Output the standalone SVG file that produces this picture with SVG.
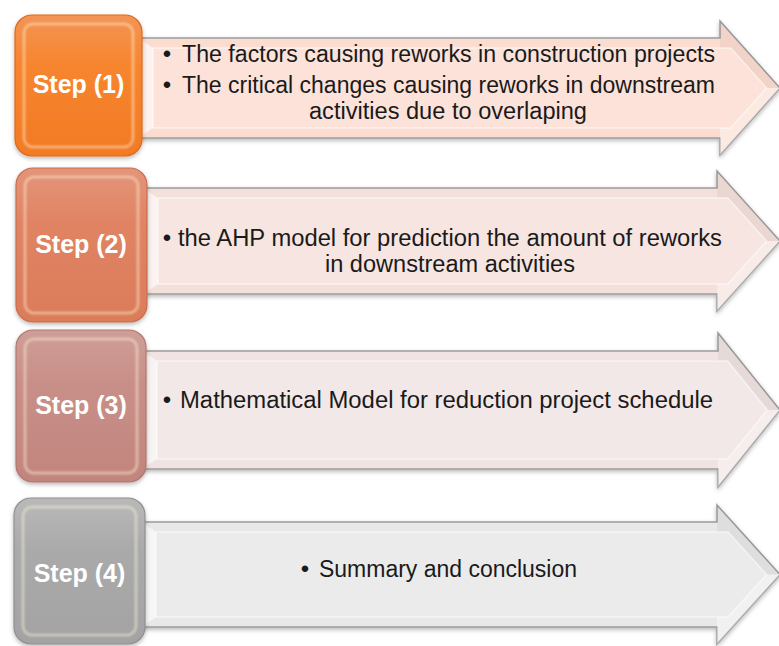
<svg xmlns="http://www.w3.org/2000/svg" width="779" height="646" viewBox="0 0 779 646">
  <defs>
    <style>
      .lbl { font-family: "Liberation Sans", Arial, sans-serif; font-weight: bold; font-size: 25px; fill: #ffffff; text-anchor: middle; }
      .txt { font-family: "Liberation Sans", Arial, sans-serif; font-size: 23px; fill: #1a1a1a; }
      .bul { font-family: "Liberation Sans", Arial, sans-serif; font-size: 24px; fill: #1a1a1a; text-anchor: middle; }
      .arrow { stroke: #9c9c9c; stroke-width: 1.5; stroke-linejoin: miter; }
      .inner { fill: none; stroke: #ffffff; stroke-opacity: 0.55; stroke-width: 1.5; }
      .lface { fill: #ffffff; fill-opacity: 0.62; }
      .uface { fill: #000000; fill-opacity: 0.04; }
      .dface { fill: #ffffff; fill-opacity: 0.38; }
      .boxedge { fill: none; stroke: #fff6d8; stroke-opacity: 0.5; stroke-width: 2.5; }
    </style>
    <filter id="shadow" x="-5%" y="-10%" width="115%" height="130%">
      <feDropShadow dx="0" dy="2" stdDeviation="2" flood-color="#000000" flood-opacity="0.28"/>
    </filter>
    <filter id="soft" x="-10%" y="-10%" width="120%" height="120%">
      <feGaussianBlur stdDeviation="1.2"/>
    </filter>
    <linearGradient id="g1" x1="0" y1="0" x2="0" y2="1">
      <stop offset="0" stop-color="#f39455"/>
      <stop offset="0.35" stop-color="#f7852f"/>
      <stop offset="1" stop-color="#f27a24"/>
    </linearGradient>
    <linearGradient id="g2" x1="0" y1="0" x2="0" y2="1">
      <stop offset="0" stop-color="#e3957a"/>
      <stop offset="0.35" stop-color="#e08463"/>
      <stop offset="1" stop-color="#db7b59"/>
    </linearGradient>
    <linearGradient id="g3" x1="0" y1="0" x2="0" y2="1">
      <stop offset="0" stop-color="#cf9e98"/>
      <stop offset="0.35" stop-color="#c88f88"/>
      <stop offset="1" stop-color="#c2857e"/>
    </linearGradient>
    <linearGradient id="g4" x1="0" y1="0" x2="0" y2="1">
      <stop offset="0" stop-color="#b9b9b9"/>
      <stop offset="0.35" stop-color="#aaaaaa"/>
      <stop offset="1" stop-color="#a3a3a3"/>
    </linearGradient>
  </defs>

  <rect x="0" y="0" width="779" height="646" fill="#ffffff"/>

  <!-- Step 1 -->
  <g id="step1-detail">
    <polygon class="arrow" filter="url(#shadow)" fill="#fbdcd1" points="138,38 720,38 720,21 780,88 720,155 720,138 138,138"/>
    <polygon fill="#fce2d9" points="153,48 730.8,48 766.6,88 730.8,128 153,128"/>
    <polygon class="lface" points="138,38 153,48 153,128 138,138"/>
    <polygon class="uface" points="720,21 780,88 766.6,88 730.8,48 720,48"/>
    <polygon class="dface" points="720,155 780,88 766.6,88 730.8,128 720,128"/>
    <polygon class="inner" points="153,48 730.8,48 766.6,88 730.8,128 153,128"/>
    <text class="bul" x="167" y="62">•</text>
    <text class="txt" x="182" y="62" textLength="533" lengthAdjust="spacingAndGlyphs">The factors causing reworks in construction projects</text>
    <text class="bul" x="167" y="93">•</text>
    <text class="txt" x="182" y="93" textLength="533" lengthAdjust="spacingAndGlyphs">The critical changes causing reworks in downstream</text>
    <text class="txt" x="309" y="119" textLength="278" lengthAdjust="spacingAndGlyphs">activities due to overlaping</text>
  </g>
  <g id="step1">
    <rect x="15" y="15" width="127" height="141" rx="17" fill="url(#g1)" stroke="#dc6a1c" stroke-width="1.2" filter="url(#shadow)"/>
    <rect x="24" y="24" width="109" height="123" rx="9" class="boxedge" filter="url(#soft)"/>
    <text class="lbl" x="78.5" y="93">Step (1)</text>
  </g>

  <!-- Step 2 -->
  <g id="step2-detail">
    <polygon class="arrow" filter="url(#shadow)" fill="#f4e0db" points="143,188 717,188 717,171 780,241 717,311 717,294 143,294"/>
    <polygon fill="#f6e5e1" points="158,198 727.9,198 766.5,241 727.9,284 158,284"/>
    <polygon class="lface" points="143,188 158,198 158,284 143,294"/>
    <polygon class="uface" points="717,171 780,241 766.5,241 727.9,198 717,198"/>
    <polygon class="dface" points="717,311 780,241 766.5,241 727.9,284 717,284"/>
    <polygon class="inner" points="158,198 727.9,198 766.5,241 727.9,284 158,284"/>
    <text class="bul" x="167" y="246">•</text>
    <text class="txt" x="178" y="246" textLength="544" lengthAdjust="spacingAndGlyphs">the AHP model for prediction the amount of reworks</text>
    <text class="txt" x="325" y="272" textLength="250" lengthAdjust="spacingAndGlyphs">in downstream activities</text>
  </g>
  <g id="step2">
    <rect x="16" y="168" width="131" height="154" rx="17" fill="url(#g2)" stroke="#c96d4d" stroke-width="1.2" filter="url(#shadow)"/>
    <rect x="25" y="177" width="113" height="136" rx="9" class="boxedge" filter="url(#soft)"/>
    <text class="lbl" x="81" y="253">Step (2)</text>
  </g>

  <!-- Step 3 -->
  <g id="step3-detail">
    <polygon class="arrow" filter="url(#shadow)" fill="#f0e3e2" points="142,351 718,351 718,333 780,410 718,487 718,469 142,469"/>
    <polygon fill="#f2e8e7" points="157,361 727.7,361 767.2,410 727.7,459 157,459"/>
    <polygon class="lface" points="142,351 157,361 157,459 142,469"/>
    <polygon class="uface" points="718,333 780,410 767.2,410 727.7,361 718,361"/>
    <polygon class="dface" points="718,487 780,410 767.2,410 727.7,459 718,459"/>
    <polygon class="inner" points="157,361 727.7,361 767.2,410 727.7,459 157,459"/>
    <text class="bul" x="167" y="408">•</text>
    <text class="txt" x="180" y="408" textLength="533" lengthAdjust="spacingAndGlyphs">Mathematical Model for reduction project schedule</text>
  </g>
  <g id="step3">
    <rect x="16" y="330" width="130" height="152" rx="17" fill="url(#g3)" stroke="#b0776f" stroke-width="1.2" filter="url(#shadow)"/>
    <rect x="25" y="339" width="112" height="134" rx="9" class="boxedge" filter="url(#soft)"/>
    <text class="lbl" x="81" y="414">Step (3)</text>
  </g>

  <!-- Step 4 -->
  <g id="step4-detail">
    <polygon class="arrow" filter="url(#shadow)" fill="#e8e8e8" points="141,522 717,522 717,505 780,574.5 717,644 717,627 141,627"/>
    <polygon fill="#ebebeb" points="156,532 728,532 766.5,574.5 728,617 156,617"/>
    <polygon class="lface" points="141,522 156,532 156,617 141,627"/>
    <polygon class="uface" points="717,505 780,574.5 766.5,574.5 728,532 717,532"/>
    <polygon class="dface" points="717,644 780,574.5 766.5,574.5 728,617 717,617"/>
    <polygon class="inner" points="156,532 728,532 766.5,574.5 728,617 156,617"/>
    <text class="bul" x="305" y="577">•</text>
    <text class="txt" x="319" y="577" textLength="258" lengthAdjust="spacingAndGlyphs">Summary and conclusion</text>
  </g>
  <g id="step4">
    <rect x="14" y="498" width="131" height="146" rx="17" fill="url(#g4)" stroke="#8f8f8f" stroke-width="1.2" filter="url(#shadow)"/>
    <rect x="23" y="507" width="113" height="128" rx="9" class="boxedge" filter="url(#soft)"/>
    <text class="lbl" x="79.5" y="582">Step (4)</text>
  </g>
</svg>
